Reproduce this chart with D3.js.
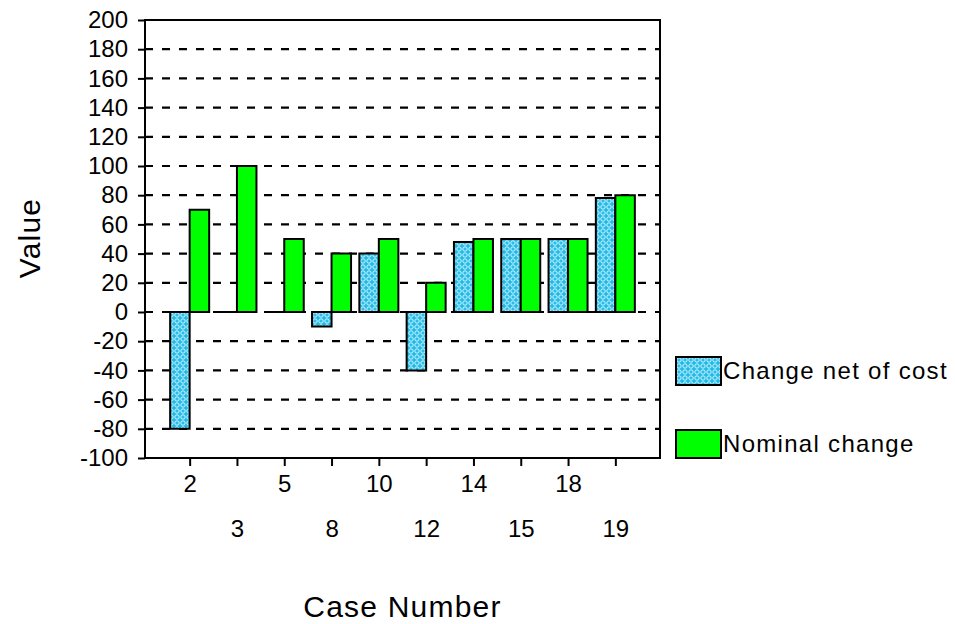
<!DOCTYPE html>
<html>
<head>
<meta charset="utf-8">
<script src="https://cdn.jsdelivr.net/npm/d3@7"></script>
<style>
  body { margin: 0; background: #fff; }
  text { font-family: 'Liberation Sans', Arial, sans-serif; fill: #000; }
</style>
</head>
<body>
<div id="chart"></div>
<script>
// Data
let cases = ['2', '3', '5', '8', '10', '12', '14', '15', '18', '19'];
let netOfCost = [-80, 0, 0, -10, 40, -40, 48, 50, 50, 78];
let nominal = [70, 100, 50, 40, 50, 20, 50, 50, 50, 80];
let yTicks = [-100, -80, -60, -40, -20, 0, 20, 40, 60, 80, 100, 120, 140, 160, 180, 200];
let seriesNames = ['Change net of cost', 'Nominal change'];

let width = 955, height = 624;
let plot = { left: 145, right: 660, top: 20, bottom: 458 };
let barW = 19.5;

let svg = d3.select('#chart')
    .append('svg')
    .attr('width', width)
    .attr('height', height);

// hatched cyan fill
let defs = svg.append('defs');
let pat = defs.append('pattern')
    .attr('id', 'cyanHatch')
    .attr('patternUnits', 'userSpaceOnUse')
    .attr('width', 6)
    .attr('height', 6);
pat.append('rect').attr('width', 6).attr('height', 6).attr('fill', '#1fbbe8');
pat.append('circle').attr('cx', 3).attr('cy', 3).attr('r', 2.2)
    .attr('fill', 'none').attr('stroke', '#d8f4fc').attr('stroke-width', 1);
pat.append('rect').attr('x', 2.5).attr('y', 2.5).attr('width', 1).attr('height', 1).attr('fill', '#40c8ef');

// Scales
let x = d3.scalePoint().domain(cases).range([plot.left, plot.right]).padding(0.944);
let y = d3.scaleLinear().domain([-100, 200]).range([plot.bottom, plot.top]);

// Grid lines
svg.append('g')
    .selectAll('line')
    .data(yTicks.filter(d => d > -100 && d < 200))
    .enter().append('line')
    .attr('x1', plot.left)
    .attr('x2', plot.right)
    .attr('y1', d => y(d))
    .attr('y2', d => y(d))
    .attr('stroke', '#000')
    .attr('stroke-width', 2.2)
    .attr('stroke-dasharray', '8,9');

// Y axis (plain hyphen for negatives)
let yAxis = svg.append('g')
    .attr('transform', 'translate(' + plot.left + ',0)')
    .call(d3.axisLeft(y).tickValues(yTicks).tickFormat(d => String(d))
        .tickSize(7).tickSizeOuter(0).tickPadding(10));
yAxis.select('.domain').remove();
yAxis.selectAll('.tick line').attr('stroke-width', 2);
yAxis.selectAll('.tick text').attr('font-size', 24).attr('fill', '#000');

// X axis
let xAxis = svg.append('g')
    .attr('transform', 'translate(0,' + plot.bottom + ')')
    .call(d3.axisBottom(x).tickSize(8).tickSizeOuter(0));
xAxis.select('.domain').remove();
xAxis.selectAll('.tick line').attr('stroke-width', 2);
xAxis.selectAll('.tick text')
    .attr('font-size', 24)
    .attr('fill', '#000')
    .attr('dy', 0)
    .attr('y', (d, i) => i % 2 ? 79 : 34);

// bar outline as path so that zero values still draw a line
function barPath(x0, x1, v) {
    return 'M' + x0 + ',' + y(0) + 'V' + y(v) + 'H' + x1 + 'V' + y(0) + 'Z';
}

// Change net of cost bars
svg.append('g')
    .selectAll('path')
    .data(netOfCost)
    .enter().append('path')
    .attr('d', (d, i) => barPath(x(cases[i]) - barW, x(cases[i]), d))
    .attr('fill', 'url(#cyanHatch)')
    .attr('stroke', '#000')
    .attr('stroke-width', 2);

// Nominal change bars
svg.append('g')
    .selectAll('path')
    .data(nominal)
    .enter().append('path')
    .attr('d', (d, i) => barPath(x(cases[i]), x(cases[i]) + barW, d))
    .attr('fill', '#00ff00')
    .attr('stroke', '#000')
    .attr('stroke-width', 2);

// Frame
svg.append('rect')
    .attr('x', plot.left)
    .attr('y', plot.top)
    .attr('width', plot.right - plot.left)
    .attr('height', plot.bottom - plot.top)
    .attr('fill', 'none')
    .attr('stroke', '#000')
    .attr('stroke-width', 2);

// Axis titles
svg.append('text')
    .attr('transform', 'translate(40,238) rotate(-90)')
    .attr('text-anchor', 'middle')
    .attr('font-size', 30)
    .attr('letter-spacing', '1.2px')
    .text('Value');

svg.append('text')
    .attr('x', (plot.left + plot.right) / 2)
    .attr('y', 617)
    .attr('text-anchor', 'middle')
    .attr('font-size', 30)
    .attr('letter-spacing', '1.2px')
    .text('Case Number');

// Legend
let legendFills = ['url(#cyanHatch)', '#00ff00'];
let legend = svg.append('g')
    .selectAll('g')
    .data(seriesNames)
    .enter().append('g')
    .attr('transform', (d, i) => 'translate(676,' + (357 + i * 73) + ')');
legend.append('rect')
    .attr('width', 45)
    .attr('height', 28)
    .attr('fill', (d, i) => legendFills[i])
    .attr('stroke', '#000')
    .attr('stroke-width', 2);
legend.append('text')
    .attr('x', 47)
    .attr('y', 22)
    .attr('font-size', 24)
    .attr('letter-spacing', '1.3px')
    .text(d => d);
</script>
</body>
</html>
